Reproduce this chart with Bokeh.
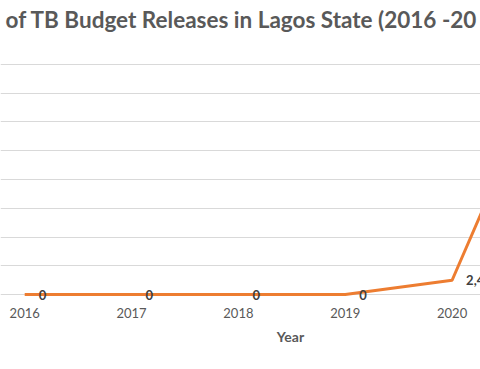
from bokeh.plotting import figure
from bokeh.models import Range1d, FixedTicker, LinearAxis, ColumnDataSource
from bokeh.embed import file_html
from bokeh.resources import INLINE
from bokeh.core.properties import value

# ---- data ----
years = [2016, 2017, 2018, 2019, 2020, 2021]
releases = [0, 0, 0, 0, 2480000, 45200000]
data_labels = ["0", "0", "0", "0", "2,480,000", "45,200,000"]
x_ticks = [2016, 2017, 2018, 2019, 2020, 2021]
y_grid_values = [0, 5000000, 10000000, 15000000, 20000000, 25000000, 30000000, 35000000, 40000000]
title_text = "of TB Budget Releases in Lagos State (2016 -20"
x_title = "Year"

W, H = 480, 369
# the reference is a crop of a larger chart: the plot area runs off the top/left/right edges
p = figure(width=W, height=H, output_backend="svg", toolbar_location=None, title=None,
           x_range=Range1d(2015.7735, 2020.2658),
           y_range=Range1d(-1391000, 51130000),
           y_axis_location=None,
           min_border_left=0, min_border_right=0,
           min_border_top=0, min_border_bottom=67)
p.outline_line_color = None
p.background_fill_color = "white"
p.border_fill_color = "white"

p.xgrid.grid_line_color = None
p.ygrid.ticker = FixedTicker(ticks=y_grid_values)
p.ygrid.grid_line_color = "#D9D9D9"
p.ygrid.grid_line_width = 1

ax = p.xaxis[0]
ax.ticker = FixedTicker(ticks=x_ticks)
ax.axis_line_color = None
ax.major_tick_line_color = None
ax.minor_tick_line_color = None
ax.major_tick_out = 0
ax.major_tick_in = 0
ax.major_label_standoff = 5
ax.major_label_text_font = "Lato"
ax.major_label_text_font_size = "13px"
ax.major_label_text_color = "#595959"

# axis title "Year", centred where the reference places it (pixel range for placement)
p.extra_x_ranges = {"px": Range1d(0, W)}
title_axis = LinearAxis(x_range_name="px", ticker=FixedTicker(ticks=[290]),
                        major_label_overrides={290: x_title})
title_axis.axis_line_color = None
title_axis.major_tick_line_color = None
title_axis.minor_tick_line_color = None
title_axis.major_tick_out = 0
title_axis.major_tick_in = 0
title_axis.major_label_standoff = 7
title_axis.major_label_text_font = "Lato"
title_axis.major_label_text_font_size = "14px"
title_axis.major_label_text_font_style = "bold"
title_axis.major_label_text_color = "#595959"
p.add_layout(title_axis, "below")

# chart title (cropped at both sides in the reference)
p.extra_y_ranges = {"py": Range1d(H - 67, 0)}
p.text(x=[5], y=[19], text=[title_text], x_range_name="px", y_range_name="py",
       text_align="left", text_baseline="middle",
       text_font=value("Lato"), text_font_style="bold", text_font_size="22.5px",
       text_color="#595959")

src = ColumnDataSource(dict(x=years, y=releases, t=data_labels))
p.line("x", "y", source=src, line_color="#ED7D31", line_width=3, line_join="round")
p.text("x", "y", text="t", source=src, x_offset=14, text_align="left", text_baseline="middle",
       text_font=value("Lato"), text_font_style="bold", text_font_size="13px", text_color="#404040")

open("out.html", "w").write(file_html(p, INLINE))
